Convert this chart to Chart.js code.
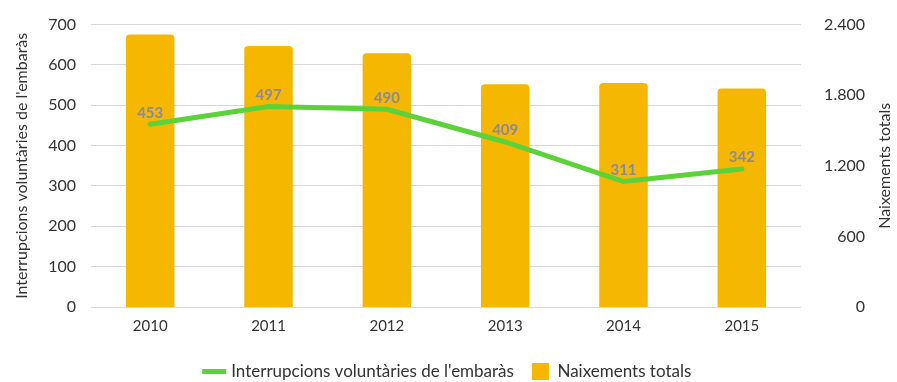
<!DOCTYPE html>
<html>
<head>
<meta charset="utf-8">
<script src="https://cdn.jsdelivr.net/npm/chart.js@4"></script>
<style>
    html, body { margin: 0; padding: 0; background: #fff; }
    #wrap { width: 897px; height: 382px; position: relative; }
</style>
</head>
<body>
<div id="wrap"><canvas id="birthsChart"></canvas></div>
<script>
const years = ['2010', '2011', '2012', '2013', '2014', '2015'];
const interruptions = [453, 497, 490, 409, 311, 342];
const births = [2316, 2218, 2157, 1892, 1904, 1856];

const colors = {
    green: '#5CD23A',
    yellow: '#F5B700',
    grid: '#D9D9D9',
    text: '#333333',
    label: '#8C8A96'
};

// Value labels above the line points
const pointLabels = {
    id: 'pointLabels',
    afterDatasetsDraw(chart) {
        const ctx = chart.ctx;
        const meta = chart.getDatasetMeta(0);
        ctx.save();
        ctx.font = 'bold 15px Lato';
        ctx.fillStyle = colors.label;
        ctx.textAlign = 'center';
        ctx.textBaseline = 'bottom';
        meta.data.forEach((pt, i) => {
            ctx.fillText(interruptions[i], pt.x, pt.y - 4);
        });
        ctx.restore();
    }
};

// Right axis title, read bottom to top like the left one
const rightTitle = {
    id: 'rightTitle',
    afterDraw(chart) {
        const ctx = chart.ctx;
        const area = chart.chartArea;
        ctx.save();
        ctx.translate(chart.width - 12, (area.top + area.bottom) / 2);
        ctx.rotate(-Math.PI / 2);
        ctx.font = '16px Lato';
        ctx.fillStyle = colors.text;
        ctx.textAlign = 'center';
        ctx.textBaseline = 'middle';
        ctx.fillText('Naixements totals', 0, 0);
        ctx.restore();
    }
};

// Center the legend on the whole canvas rather than the padded box
const legendShift = {
    id: 'legendShift',
    afterLayout(chart) {
        chart.legend.left += 11;
        chart.legend.right += 11;
    }
};

Chart.defaults.font.family = 'Lato';
Chart.defaults.color = colors.text;

new Chart(document.getElementById('birthsChart'), {
    type: 'bar',
    data: {
        labels: years,
        datasets: [{
            type: 'line',
            label: "Interrupcions voluntàries de l'embaràs",
            data: interruptions,
            yAxisID: 'y',
            borderColor: colors.green,
            backgroundColor: colors.green,
            borderWidth: 5,
            pointRadius: 0,
            pointStyle: 'line',
            borderCapStyle: 'round',
            tension: 0,
            order: 0
        }, {
            label: 'Naixements totals',
            data: births,
            yAxisID: 'y1',
            backgroundColor: colors.yellow,
            borderRadius: 4,
            borderSkipped: 'bottom',
            categoryPercentage: 1,
            barPercentage: 0.41,
            pointStyle: 'rect',
            order: 1
        }]
    },
    options: {
        maintainAspectRatio: false,
        responsive: true,
        animation: false,
        layout: {
            padding: { left: 10, right: 32, top: -2, bottom: -8 }
        },
        plugins: {
            legend: {
                position: 'bottom',
                labels: {
                    usePointStyle: true,
                    boxWidth: 17,
                    boxHeight: 17,
                    padding: 18,
                    font: { size: 17 },
                    color: colors.text
                }
            },
            tooltip: { enabled: false }
        },
        scales: {
            x: {
                grid: { display: false },
                border: { display: false },
                ticks: { font: { size: 15 }, padding: 2 },
                afterFit: scale => { scale.height += 8; }
            },
            y: {
                position: 'left',
                min: 0,
                max: 700,
                border: { display: false },
                grid: { color: colors.grid, drawTicks: false },
                ticks: { stepSize: 100, font: { size: 16 }, padding: 15 },
                title: {
                    display: true,
                    text: "Interrupcions voluntàries de l'embaràs",
                    font: { size: 16 },
                    padding: 2
                }
            },
            y1: {
                position: 'right',
                min: 0,
                max: 2400,
                border: { display: false },
                grid: { display: false },
                ticks: {
                    stepSize: 600,
                    font: { size: 16 },
                    crossAlign: 'far',
                    callback: v => v.toLocaleString('de-DE')
                },
                afterFit: scale => { scale.width = 64; }
            }
        }
    },
    plugins: [pointLabels, rightTitle, legendShift]
});
</script>
</body>
</html>
